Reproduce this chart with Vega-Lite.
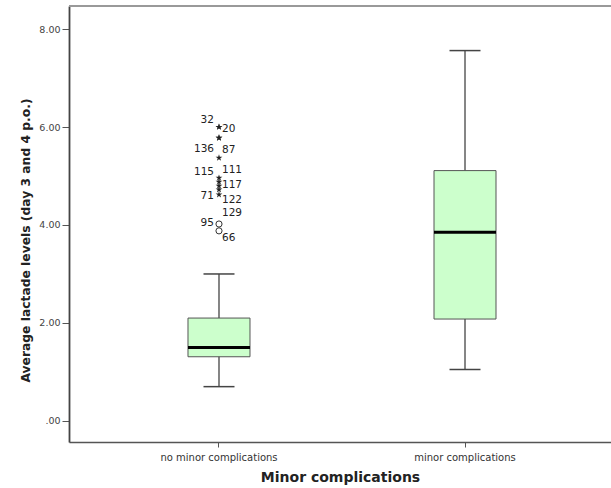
{
  "$schema": "https://vega.github.io/schema/vega-lite/v6.json",
  "usermeta": {"embedOptions": {"actions": false}},
  "width": 542,
  "height": 436,
  "autosize": {"type": "none"},
  "padding": {"left": 69, "top": 6, "right": 0, "bottom": 46},
  "config": {
    "view": {"stroke": null},
    "font": "DejaVu Sans",
    "axisX": {
      "labelAngle": 0,
      "labelFontSize": 10,
      "labelColor": "#333",
      "labelPadding": 5,
      "tickSize": 5,
      "tickColor": "#555",
      "domainColor": "#555",
      "domainWidth": 1.5,
      "titleFontSize": 14,
      "titleFontWeight": "bold",
      "titleColor": "#222",
      "titlePadding": 8
    }
  },
  "datasets": {
    "boxes": [
      {"group": "no minor complications", "lower": 0.70, "q1": 1.31, "median": 1.50, "q3": 2.10, "upper": 3.00},
      {"group": "minor complications", "lower": 1.05, "q1": 2.08, "median": 3.85, "q3": 5.11, "upper": 7.56}
    ],
    "outliers": [
      {"group": "no minor complications", "id": "32", "value": 6.00, "kind": "extreme"},
      {"group": "no minor complications", "id": "20", "value": 6.00, "kind": "extreme"},
      {"group": "no minor complications", "id": "136", "value": 5.78, "kind": "extreme"},
      {"group": "no minor complications", "id": "87", "value": 5.78, "kind": "extreme"},
      {"group": "no minor complications", "id": "111", "value": 5.37, "kind": "extreme"},
      {"group": "no minor complications", "id": "115", "value": 4.96, "kind": "extreme"},
      {"group": "no minor complications", "id": "117", "value": 4.88, "kind": "extreme"},
      {"group": "no minor complications", "id": "129", "value": 4.80, "kind": "extreme"},
      {"group": "no minor complications", "id": "71", "value": 4.72, "kind": "extreme"},
      {"group": "no minor complications", "id": "122", "value": 4.62, "kind": "extreme"},
      {"group": "no minor complications", "id": "95", "value": 4.02, "kind": "outlier"},
      {"group": "no minor complications", "id": "66", "value": 3.88, "kind": "outlier"}
    ]
  },
  "layer": [
    {
      "data": {"name": "boxes"},
      "mark": {"type": "rule", "color": "#444", "strokeWidth": 1.3},
      "encoding": {
        "x": {
          "field": "group",
          "type": "nominal",
          "sort": ["no minor complications", "minor complications"],
          "scale": {"domain": ["no minor complications", "minor complications"], "paddingInner": 0, "paddingOuter": 0.1016, "align": 0.54},
          "title": "Minor complications"
        },
        "y": {
          "field": "lower",
          "type": "quantitative",
          "scale": {"domain": [-0.43, 8.47], "nice": false, "zero": false},
          "title": "Average lactade levels (day 3 and 4 p.o.)",
          "axis": {
            "values": [0, 2, 4, 6, 8],
            "labelExpr": "datum.value == 0 ? '.00' : format(datum.value, '.2f')",
            "grid": false,
            "labelFontSize": 9.5,
            "labelColor": "#444",
            "labelPadding": 2,
            "tickSize": 7,
            "tickColor": "#555",
            "domainColor": "#444",
            "domainWidth": 1.8,
            "titleFontSize": 12.3,
            "titleFontWeight": "bold",
            "titleColor": "#222",
            "titlePadding": 6,
            "titleY": 234
          }
        },
        "y2": {"field": "upper"}
      }
    },
    {
      "data": {"name": "boxes"},
      "mark": {"type": "rule", "color": "#999", "strokeWidth": 2},
      "encoding": {
        "y": {"datum": 8.47, "type": "quantitative", "title": "Average lactade levels (day 3 and 4 p.o.)"}
      }
    },
    {
      "data": {"name": "boxes"},
      "mark": {"type": "tick", "color": "#444", "opacity": 1, "size": 31, "thickness": 1.5, "orient": "horizontal"},
      "encoding": {
        "x": {"field": "group", "type": "nominal", "title": "Minor complications"},
        "y": {"field": "lower", "type": "quantitative", "title": "Average lactade levels (day 3 and 4 p.o.)"}
      }
    },
    {
      "data": {"name": "boxes"},
      "mark": {"type": "tick", "color": "#444", "opacity": 1, "size": 31, "thickness": 1.5, "orient": "horizontal"},
      "encoding": {
        "x": {"field": "group", "type": "nominal", "title": "Minor complications"},
        "y": {"field": "upper", "type": "quantitative", "title": "Average lactade levels (day 3 and 4 p.o.)"}
      }
    },
    {
      "data": {"name": "boxes"},
      "mark": {"type": "bar", "size": 62, "fill": "#ccffcc", "stroke": "#555", "strokeWidth": 1, "opacity": 1},
      "encoding": {
        "x": {"field": "group", "type": "nominal", "title": "Minor complications"},
        "y": {"field": "q1", "type": "quantitative", "title": "Average lactade levels (day 3 and 4 p.o.)"},
        "y2": {"field": "q3"}
      }
    },
    {
      "data": {"name": "boxes"},
      "mark": {"type": "tick", "color": "#000", "opacity": 1, "size": 62, "thickness": 3, "orient": "horizontal"},
      "encoding": {
        "x": {"field": "group", "type": "nominal", "title": "Minor complications"},
        "y": {"field": "median", "type": "quantitative", "title": "Average lactade levels (day 3 and 4 p.o.)"}
      }
    },
    {
      "data": {"name": "outliers"},
      "transform": [{"filter": "datum.kind == 'extreme'"}],
      "mark": {
        "type": "point",
        "shape": "M0,-1L0.224,-0.309L0.951,-0.309L0.363,0.118L0.588,0.809L0,0.382L-0.588,0.809L-0.363,0.118L-0.951,-0.309L-0.224,-0.309Z",
        "filled": true,
        "color": "#222",
        "opacity": 1,
        "size": 50
      },
      "encoding": {
        "x": {"field": "group", "type": "nominal", "title": "Minor complications"},
        "y": {"field": "value", "type": "quantitative", "title": "Average lactade levels (day 3 and 4 p.o.)"}
      }
    },
    {
      "data": {"name": "outliers"},
      "transform": [{"filter": "datum.kind == 'outlier'"}],
      "mark": {"type": "point", "shape": "circle", "filled": false, "stroke": "#333", "strokeWidth": 1, "opacity": 1, "size": 38},
      "encoding": {
        "x": {"field": "group", "type": "nominal", "title": "Minor complications"},
        "y": {"field": "value", "type": "quantitative", "title": "Average lactade levels (day 3 and 4 p.o.)"}
      }
    },
    {
      "data": {"name": "outliers"},
      "transform": [{"filter": "indexof(['32','136','115','71','95'], datum.id) >= 0"}],
      "mark": {
        "type": "text",
        "align": "right",
        "baseline": "middle",
        "dx": -5,
        "dy": {"expr": "[-7,11,-6,6,-1][indexof(['32','136','115','71','95'], datum.id)]"},
        "fontSize": 10.5,
        "color": "#222"
      },
      "encoding": {
        "x": {"field": "group", "type": "nominal", "title": "Minor complications"},
        "y": {"field": "value", "type": "quantitative", "title": "Average lactade levels (day 3 and 4 p.o.)"},
        "text": {"field": "id"}
      }
    },
    {
      "data": {"name": "outliers"},
      "transform": [{"filter": "indexof(['20','87','111','117','122','129','66'], datum.id) >= 0"}],
      "mark": {
        "type": "text",
        "align": "left",
        "baseline": "middle",
        "dx": 3,
        "dy": {"expr": "[2,12,12,3,5,27,7][indexof(['20','87','111','117','122','129','66'], datum.id)]"},
        "fontSize": 10.5,
        "color": "#222"
      },
      "encoding": {
        "x": {"field": "group", "type": "nominal", "title": "Minor complications"},
        "y": {"field": "value", "type": "quantitative", "title": "Average lactade levels (day 3 and 4 p.o.)"},
        "text": {"field": "id"}
      }
    }
  ]
}
